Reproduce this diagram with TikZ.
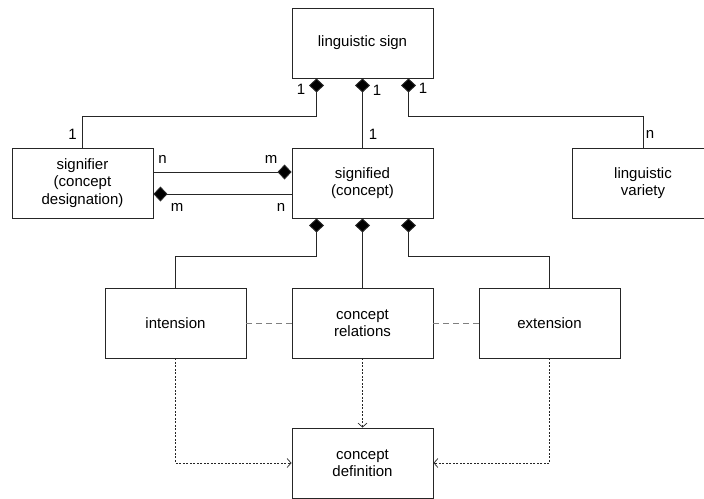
\documentclass[tikz,border=0pt]{standalone}
\usepackage{fontspec}
\setmainfont{Liberation Sans}
\usetikzlibrary{arrows.meta}
\begin{document}
\begin{tikzpicture}[x=1pt,y=-1pt,
  font=\fontsize{15}{17.5}\selectfont,
  box/.style={draw=black!85, line width=0.9pt, minimum width=141pt, minimum height=70pt, align=center, inner sep=0pt},
  comp/.style={draw=black!85, line width=0.9pt, {Diamond[length=14pt,width=15pt,fill=black]}-},
  assoc/.style={draw=black!50, line width=0.9pt, dash pattern=on 6pt off 4pt},
  dep/.style={draw=black!85, line width=0.7pt, dash pattern=on 2pt off 1.5pt, -{Straight Barb[length=4pt,width=9pt,line width=0.7pt]}},
  lab/.style={inner sep=0pt}]
\useasboundingbox (0,0) rectangle (704,498);
% boxes
\node[box] (sign) at (362.5,43) {linguistic sign};
\node[box] (sfr) at (82.5,183) {signifier\\(concept\\designation)};
\node[box] (sfd) at (362.5,183) {signified\\(concept)};
\node[box] (var) at (643,183) {linguistic\\variety};
\node[box] (int) at (175.5,323) {intension};
\node[box] (rel) at (362.5,323) {concept\\relations};
\node[box] (ext) at (549.5,323) {extension};
\node[box] (def) at (362.5,463) {concept\\definition};
% composition connectors
\draw[comp] ([xshift=-46pt]sign.south) -- ++(0,38) -| (sfr.north);
\draw[comp] (sign.south) -- (sfd.north);
\draw[comp] ([xshift=46pt]sign.south) -- ++(0,38) -| (var.north);
\draw[comp] ([yshift=11pt]sfd.west) -- ([yshift=11pt]sfr.east);
\draw[comp] ([yshift=-11pt]sfr.east) -- ([yshift=-11pt]sfd.west);
\draw[comp] ([xshift=-46pt]sfd.south) -- ++(0,38) -| (int.north);
\draw[comp] (sfd.south) -- (rel.north);
\draw[comp] ([xshift=46pt]sfd.south) -- ++(0,38) -| (ext.north);
% associations
\draw[assoc] (int.east) -- (rel.west);
\draw[assoc] (rel.east) -- (ext.west);
% dependencies
\draw[dep] (int.south) |- (def.west);
\draw[dep] (rel.south) -- (def.north);
\draw[dep] (ext.south) |- (def.east);
% multiplicities
\node[lab] (l1) at (301,89) {1};
\node[lab] (l2) at (377,90) {1};
\node[lab] (l3) at (423,88) {1};
\node[lab] (l4) at (72.5,134) {1};
\node[lab] (l5) at (373,134) {1};
\node[lab] (l6) at (650,134) {n};
\node[lab] (l7) at (162.5,159) {n};
\node[lab] (l8) at (271,159) {m};
\node[lab] (l9) at (177,207) {m};
\node[lab] (l10) at (281,207) {n};
\end{tikzpicture}
\end{document}
